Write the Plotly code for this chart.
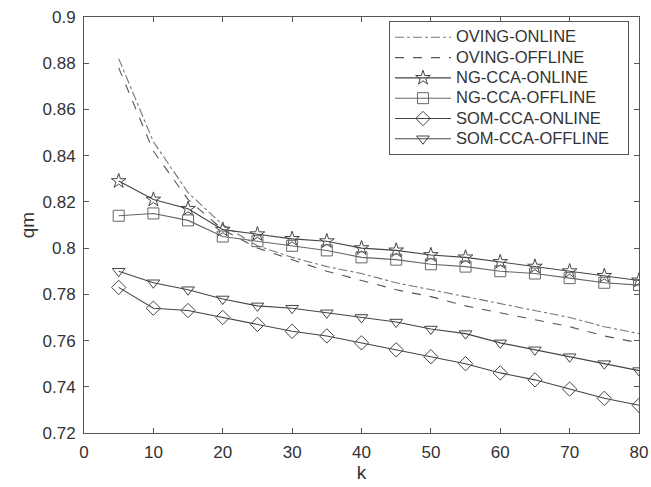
import plotly.graph_objects as go

k = [5, 10, 15, 20, 25, 30, 35, 40, 45, 50, 55, 60, 65, 70, 75, 80]
oving_online = [0.882, 0.846, 0.824, 0.810, 0.801, 0.796, 0.792, 0.789, 0.785, 0.782, 0.779, 0.776, 0.773, 0.770, 0.766, 0.763]
oving_offline = [0.878, 0.842, 0.821, 0.808, 0.800, 0.795, 0.790, 0.786, 0.782, 0.779, 0.775, 0.772, 0.769, 0.766, 0.762, 0.759]
ng_online = [0.829, 0.821, 0.817, 0.808, 0.806, 0.804, 0.803, 0.800, 0.799, 0.797, 0.796, 0.794, 0.792, 0.790, 0.788, 0.786]
ng_offline = [0.814, 0.815, 0.812, 0.805, 0.803, 0.801, 0.799, 0.796, 0.795, 0.793, 0.792, 0.790, 0.789, 0.787, 0.785, 0.784]
som_online = [0.783, 0.774, 0.773, 0.770, 0.767, 0.764, 0.762, 0.759, 0.756, 0.753, 0.750, 0.746, 0.743, 0.739, 0.735, 0.732]
som_offline = [0.790, 0.785, 0.782, 0.778, 0.775, 0.774, 0.772, 0.770, 0.768, 0.765, 0.763, 0.759, 0.756, 0.753, 0.750, 0.747]
x_ticks = [0, 10, 20, 30, 40, 50, 60, 70, 80]
y_ticks = [0.72, 0.74, 0.76, 0.78, 0.8, 0.82, 0.84, 0.86, 0.88, 0.9]
y_labels = ["0.72", "0.74", "0.76", "0.78", "0.8", "0.82", "0.84", "0.86", "0.88", "0.9"]

series = [
    ("OVING-ONLINE", oving_online, "dashdot", None, "#777777"),
    ("OVING-OFFLINE", oving_offline, "dash", None, "#555555"),
    ("NG-CCA-ONLINE", ng_online, "solid", "star-open", "#444444"),
    ("NG-CCA-OFFLINE", ng_offline, "solid", "square-open", "#666666"),
    ("SOM-CCA-ONLINE", som_online, "solid", "diamond-open", "#444444"),
    ("SOM-CCA-OFFLINE", som_offline, "solid", "triangle-down-open", "#444444"),
]

fig = go.Figure()
for name, vals, dash, sym, col in series:
    label = '<span style="font-size:16.5px">' + name + '\u00a0\u00a0\u00a0</span>'
    if sym is None:
        fig.add_trace(go.Scatter(x=k, y=vals, name=label, mode="lines",
                                 line=dict(color=col, width=1.1, dash=dash)))
    else:
        fig.add_trace(go.Scatter(x=k, y=vals, name=label, mode="lines+markers",
                                 line=dict(color=col, width=1.1, dash=dash),
                                 marker=dict(symbol=sym, size=11, color=col,
                                             line=dict(width=1, color=col))))

axis_common = dict(showline=True, linecolor="#555555", linewidth=1, mirror="ticks",
                   ticks="inside", ticklen=5, tickcolor="#555555", showgrid=False,
                   zeroline=False, automargin=False,
                   tickfont=dict(family="Liberation Sans", size=17, color="#333333"))

fig.update_layout(
    width=651, height=487,
    margin=dict(l=84, r=12, t=17, b=54),
    paper_bgcolor="white", plot_bgcolor="white",
    font=dict(family="Liberation Sans", color="#333333"),
    xaxis=dict(range=[0, 80], tickvals=x_ticks, ticklabelstandoff=4,
               title=dict(text="k", font=dict(size=19), standoff=2), **axis_common),
    yaxis=dict(range=[0.72, 0.9], tickvals=y_ticks, ticktext=y_labels, ticklabelstandoff=4,
               title=dict(text="qm", font=dict(size=19), standoff=2), **axis_common),
    legend=dict(x=0.5495, y=0.99, xanchor="left", yanchor="top",
                bgcolor="white", bordercolor="#555555", borderwidth=1,
                font=dict(size=13.3, color="#333333"), tracegroupgap=0, itemwidth=56),
    showlegend=True,
)

fig.write_html("out.html")
